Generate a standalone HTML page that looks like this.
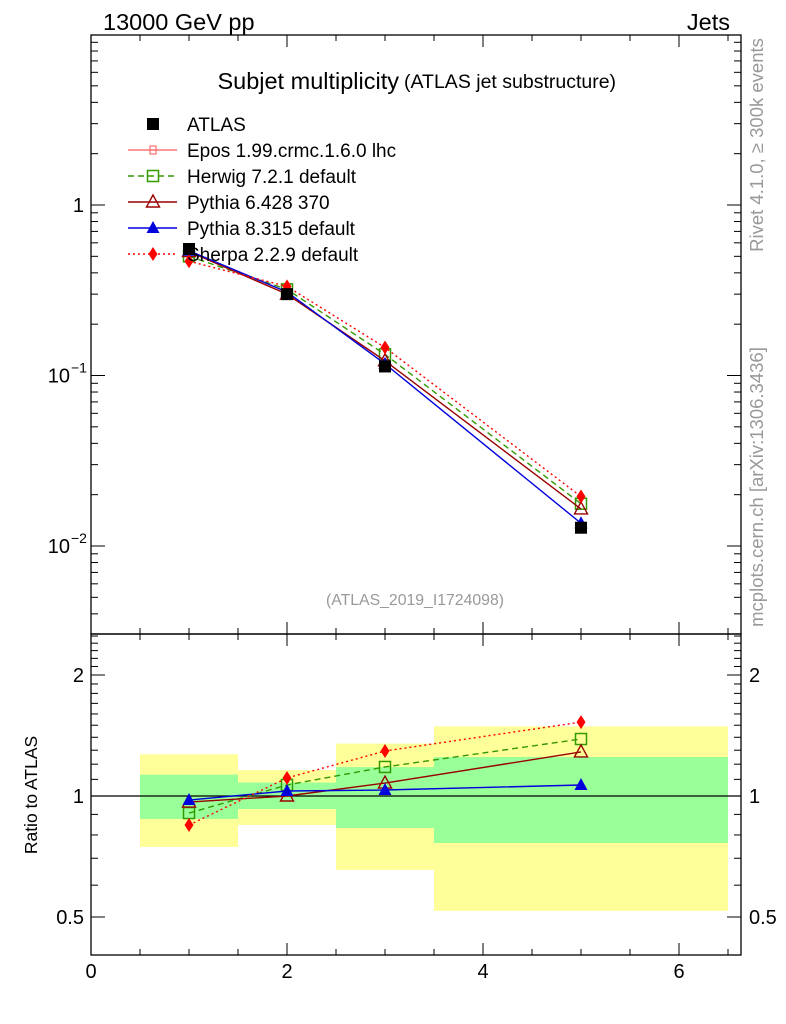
<!DOCTYPE html>
<html><head><meta charset="utf-8"><style>
body{margin:0;background:#fff}
svg{display:block;font-family:"Liberation Sans",sans-serif}
</style></head><body>
<svg id="c" width="786" height="1024" viewBox="0 0 786 1024">
<text x="103" y="30" font-size="23.5">13000 GeV pp</text>
<text x="730" y="30" font-size="23.5" text-anchor="end">Jets</text>
<text x="399" y="89" font-size="23.5" text-anchor="end">Subjet multiplicity</text>
<text x="404" y="88" font-size="19.5">(ATLAS jet substructure)</text>
<text x="415" y="605" font-size="15.8" fill="#999" text-anchor="middle">(ATLAS_2019_I1724098)</text>
<text transform="translate(763,145) rotate(-90)" font-size="18.5" fill="#999" text-anchor="middle">Rivet 4.1.0, ≥ 300k events</text>
<text transform="translate(763,487) rotate(-90)" font-size="18.5" fill="#999" text-anchor="middle">mcplots.cern.ch [arXiv:1306.3436]</text>
<text transform="translate(37,795) rotate(-90)" font-size="17.5" text-anchor="middle">Ratio to ATLAS</text>
<g id="bands"></g>
<g id="axes"></g>
<g id="series"></g>
<g id="legend"></g>
</svg>
<script>
const xVals=[1,2,3,5];
const binEdges=[0.5,1.5,2.5,3.5,6.5];
const atlas=[0.552,0.300,0.113,0.0128];
const herwig=[0.50,0.32,0.133,0.0177];
const pythia6=[0.533,0.30,0.122,0.0165];
const pythia8=[0.539,0.309,0.117,0.0136];
const sherpa=[0.468,0.333,0.146,0.0195];
const herwigR=[0.907,1.065,1.181,1.386];
const pythia6R=[0.966,1.0,1.077,1.287];
const pythia8R=[0.977,1.029,1.035,1.065];
const sherpaR=[0.847,1.109,1.294,1.527];
const yelLo=[0.747,0.847,0.655,0.518];
const yelHi=[1.27,1.16,1.35,1.49];
const grnLo=[0.877,0.928,0.833,0.764];
const grnHi=[1.13,1.08,1.18,1.25];
const xTicks=[0,2,4,6];
const mainTicks=[1,0.1,0.01];
const mainTickLabels=["1","10","10"];
const mainTickExp=["","−1","−2"];
const ratioTicks=[0.5,1,2];
const ratioTickLabels=["0.5","1","2"];

const L=91,R=741,T=35,M=634,B=955;
const X=v=>91+98*v;
const Y=v=>205-170.5*Math.log10(v);
const YR=v=>796-121*Math.log2(v);
const NS="http://www.w3.org/2000/svg";
function mk(tag,attrs,parent){const e=document.createElementNS(NS,tag);for(const k in attrs)e.setAttribute(k,attrs[k]);parent.appendChild(e);return e;}
const axes=document.getElementById('axes'),bands=document.getElementById('bands'),ser=document.getElementById('series'),leg=document.getElementById('legend');

for(let i=0;i<yelLo.length;i++){
  let r=mk('rect',{x:X(binEdges[i]),y:YR(yelHi[i]),width:X(binEdges[i+1])-X(binEdges[i]),height:YR(yelLo[i])-YR(yelHi[i]),fill:'#ffff99'},bands);
  
  
}
for(let i=0;i<grnLo.length;i++){
  let r=mk('rect',{x:X(binEdges[i]),y:YR(grnHi[i]),width:X(binEdges[i+1])-X(binEdges[i]),height:YR(grnLo[i])-YR(grnHi[i]),fill:'#99ff99'},bands);
  
  
}
mk('line',{x1:L,x2:R,y1:YR(1),y2:YR(1),stroke:'#000','stroke-width':1.3},bands);

mk('rect',{x:L,y:T,width:R-L,height:M-T,fill:'none',stroke:'#000','stroke-width':1.3},axes);
mk('rect',{x:L,y:M,width:R-L,height:B-M,fill:'none',stroke:'#000','stroke-width':1.3},axes);
for(let v=0;v<=6.6;v+=0.5){
  const maj=Math.abs(v%2)<1e-6, len=maj?12:6;
  for(const [y0,d] of [[T,1],[M,-1],[M,1],[B,-1]])
    mk('line',{x1:X(v),x2:X(v),y1:y0,y2:y0+d*len,stroke:'#000'},axes);
}
xTicks.forEach(v=>{let t=mk('text',{x:X(v),y:978,'font-size':20,'text-anchor':'middle'},axes);t.textContent=v;});
for(let d=-3;d<=1;d++)for(let m=1;m<10;m++){
  const v=m*Math.pow(10,d),y=Y(v); if(y<T||y>M)continue;
  const len=m==1?14:7;
  mk('line',{x1:L,x2:L+len,y1:y,y2:y,stroke:'#000'},axes);
  mk('line',{x1:R,x2:R-len,y1:y,y2:y,stroke:'#000'},axes);
}
mainTicks.forEach((v,i)=>{
  let t=mk('text',{x:mainTickExp[i]?70:84,y:Y(v)+7,'font-size':20,'text-anchor':'end'},axes);t.textContent=mainTickLabels[i];
  
  if(mainTickExp[i]){let s=mk('text',{x:71,y:Y(v)-3,'font-size':14},axes);s.textContent=mainTickExp[i];}
});
for(let v=0.4;v<=2.55;v+=0.1){const y=YR(v);if(y<M||y>B)continue;
  const maj=[0.5,1,2].some(q=>Math.abs(q-v)<1e-6),len=maj?14:7;
  mk('line',{x1:L,x2:L+len,y1:y,y2:y,stroke:'#000'},axes);
  mk('line',{x1:R,x2:R-len,y1:y,y2:y,stroke:'#000'},axes);}
ratioTicks.forEach((v,i)=>{
  let t=mk('text',{x:84,y:YR(v)+7,'font-size':20,'text-anchor':'end'},axes);t.textContent=ratioTickLabels[i];
  
  let t2=mk('text',{x:749,y:YR(v)+7,'font-size':20},axes);t2.textContent=ratioTickLabels[i];
  
});

function marker(type,x,y,color,p){
  if(type=='sq')return mk('rect',{x:x-5.5,y:y-5.5,width:11,height:11,fill:'none',stroke:color,'stroke-width':1.5},p);
  if(type=='fsq')return mk('rect',{x:x-6,y:y-6,width:12,height:12,fill:color},p);
  if(type=='otri')return mk('polygon',{points:`${x},${y-7} ${x-6.5},${y+5} ${x+6.5},${y+5}`,fill:'none',stroke:color,'stroke-width':1.4},p);
  if(type=='tri')return mk('polygon',{points:`${x},${y-7} ${x-6.5},${y+5} ${x+6.5},${y+5}`,fill:color},p);
  if(type=='dia')return mk('polygon',{points:`${x},${y-7} ${x-4.5},${y} ${x},${y+7} ${x+4.5},${y}`,fill:color},p);
  if(type=='cross'){const g=mk('g',{},p);mk('rect',{x:x-3,y:y-4,width:6,height:8,fill:'none',stroke:color,'stroke-width':1.3},g);mk('line',{x1:x-5,x2:x+5,y1:y,y2:y,stroke:color,'stroke-width':1.3},g);return g;}
}
const series=[
 {name:'herwig',main:herwig,ratio:herwigR,color:'#339900',dash:'6,4',m:'sq'},
 {name:'pythia6',main:pythia6,ratio:pythia6R,color:'#990000',dash:'',m:'otri'},
 {name:'pythia8',main:pythia8,ratio:pythia8R,color:'#0000dd',dash:'',m:'tri'},
 {name:'sherpa',main:sherpa,ratio:sherpaR,color:'#ff0000',dash:'2,3',m:'dia'}
];
series.forEach(s=>{
  for(const [arr,fy] of [[s.main,Y],[s.ratio,YR]]){
    let pl=mk('polyline',{points:xVals.map((x,i)=>X(x)+','+fy(arr[i])).join(' '),fill:'none',stroke:s.color,'stroke-width':1.4,'stroke-dasharray':s.dash},ser);
    
    
    xVals.forEach((x,i)=>{let e=marker(s.m,X(x),fy(arr[i]),s.color,ser);
      
      });
  }
});
xVals.forEach((x,i)=>{let e=marker('fsq',X(x),Y(atlas[i]),'#000',ser);
  
  });

const legItems=[['ATLAS','#000','','fsq',false],['Epos 1.99.crmc.1.6.0 lhc','#ff7777','','cross',true],['Herwig 7.2.1 default','#339900','6,4','sq',true],['Pythia 6.428 370','#990000','','otri',true],['Pythia 8.315 default','#0000dd','','tri',true],['Sherpa 2.2.9 default','#ff0000','2,3','dia',true]];
legItems.forEach((it,i)=>{
  const y=124+26*i,g=mk('g',{},leg);
  
  
  if(it[4])mk('line',{x1:128,x2:177,y1:y,y2:y,stroke:it[1],'stroke-width':1.4,'stroke-dasharray':it[2]},g);
  marker(it[3],153,y,it[1],g);
  let t=mk('text',{x:187,y:y+7,'font-size':19},g);t.textContent=it[0];
});
</script>
</body></html>
